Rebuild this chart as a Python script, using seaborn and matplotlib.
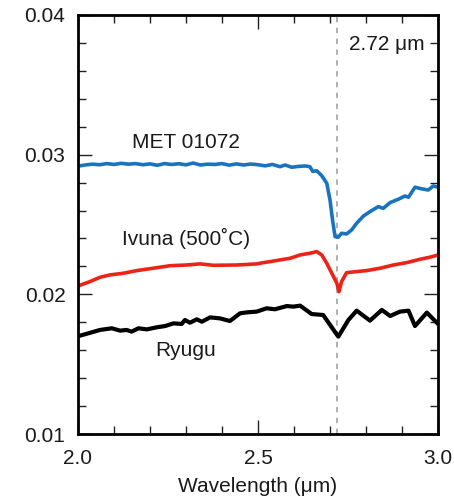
import pandas as pd
import matplotlib
matplotlib.use("Agg")
import matplotlib.pyplot as plt
import seaborn as sns
from matplotlib.ticker import MultipleLocator, FormatStrFormatter

# =====================================
# Data
# =====================================

met_x = [2.00, 2.02, 2.04, 2.06, 2.08, 2.10, 2.12, 2.14, 2.16, 2.18,
         2.20, 2.22, 2.24, 2.26, 2.28, 2.30, 2.32, 2.34, 2.36, 2.38,
         2.40, 2.42, 2.44, 2.46, 2.48, 2.50, 2.52, 2.54, 2.561, 2.575,
         2.594, 2.612, 2.631, 2.644, 2.652, 2.663, 2.677, 2.691, 2.700, 2.707,
         2.714, 2.723, 2.732, 2.746, 2.760, 2.774, 2.793, 2.811, 2.834, 2.848,
         2.867, 2.890, 2.908, 2.918, 2.936, 2.955, 2.973, 2.987, 3.000]
met_y = [0.02918, 0.02926, 0.02932, 0.02928, 0.02936, 0.02930, 0.02938, 0.02932, 0.02936, 0.02928,
         0.02934, 0.02924, 0.02936, 0.02930, 0.02935, 0.02927, 0.02940, 0.02926, 0.02932, 0.02930,
         0.02936, 0.02925, 0.02934, 0.02926, 0.02933, 0.02928, 0.02920, 0.02930, 0.02914, 0.02926,
         0.02910, 0.02916, 0.02919, 0.02914, 0.02880, 0.02885, 0.02850, 0.02795, 0.02676, 0.02533,
         0.02413, 0.02409, 0.02437, 0.02432, 0.02461, 0.02509, 0.02561, 0.02592, 0.02628, 0.02616,
         0.02657, 0.02681, 0.02704, 0.02695, 0.02767, 0.02755, 0.02747, 0.02776, 0.02767]

ivuna_x = [2.000, 2.033, 2.061, 2.089, 2.126, 2.163, 2.209, 2.256, 2.302, 2.339,
           2.376, 2.441, 2.496, 2.515, 2.533, 2.565, 2.589, 2.617, 2.644, 2.663,
           2.677, 2.691, 2.705, 2.719, 2.725, 2.732, 2.746, 2.774, 2.802, 2.839,
           2.876, 2.913, 2.950, 2.978, 3.000]
ivuna_y = [0.02060, 0.02091, 0.02122, 0.02139, 0.02151, 0.02170, 0.02187, 0.02205, 0.02210, 0.02218,
           0.02208, 0.02210, 0.02218, 0.02227, 0.02234, 0.02248, 0.02258, 0.02282, 0.02294, 0.02306,
           0.02282, 0.02222, 0.02151, 0.02079, 0.02019, 0.02091, 0.02155, 0.02163, 0.02170, 0.02187,
           0.02210, 0.02227, 0.02251, 0.02266, 0.02282]

ryugu_x = [2.000, 2.033, 2.061, 2.094, 2.117, 2.135, 2.149, 2.168, 2.191, 2.219,
           2.242, 2.265, 2.288, 2.297, 2.311, 2.330, 2.344, 2.367, 2.394, 2.422,
           2.450, 2.469, 2.496, 2.524, 2.547, 2.580, 2.598, 2.617, 2.649, 2.681,
           2.723, 2.751, 2.774, 2.811, 2.844, 2.867, 2.894, 2.918, 2.936, 2.969,
           3.000]
ryugu_y = [0.01700, 0.01724, 0.01745, 0.01757, 0.01740, 0.01745, 0.01733, 0.01757, 0.01749, 0.01764,
           0.01773, 0.01792, 0.01788, 0.01816, 0.01797, 0.01821, 0.01804, 0.01835, 0.01828, 0.01809,
           0.01864, 0.01871, 0.01876, 0.01900, 0.01893, 0.01916, 0.01912, 0.01919, 0.01859, 0.01852,
           0.01697, 0.01816, 0.01883, 0.01812, 0.01888, 0.01845, 0.01876, 0.01883, 0.01773, 0.01869,
           0.01788]

band_center = 2.72

# =====================================
# Plot
# =====================================

sns.set_style("ticks")
plt.rcParams['font.family'] = ['Liberation Sans', 'DejaVu Sans']
plt.rcParams['text.color'] = '#1a1a1a'
plt.rcParams['axes.labelcolor'] = '#1a1a1a'
plt.rcParams['xtick.labelcolor'] = '#1a1a1a'
plt.rcParams['ytick.labelcolor'] = '#1a1a1a'

fig = plt.figure(figsize=(4.54, 5.0), dpi=100)
ax = fig.add_axes([0.1718, 0.132, 0.793, 0.838])

ax.axvline(band_center, color="#aaaaaa", linestyle=(0, (3, 3)), linewidth=1.3, zorder=1)

met = pd.DataFrame({"x": met_x, "y": met_y})
ivuna = pd.DataFrame({"x": ivuna_x, "y": ivuna_y})
ryugu = pd.DataFrame({"x": ryugu_x, "y": ryugu_y})

sns.lineplot(data=met, x="x", y="y", ax=ax, color="#1a74bd", linewidth=2.6, sort=False)
sns.lineplot(data=ivuna, x="x", y="y", ax=ax, color="#ec2418", linewidth=2.6, sort=False)
sns.lineplot(data=ryugu, x="x", y="y", ax=ax, color="black", linewidth=3.0, sort=False)

fs = 15
ax.text(2.30, 0.03084, "MET 01072", ha="center", va="center", fontsize=fs)
ax.text(2.30, 0.02397, "Ivuna (500˚C)", ha="center", va="center", fontsize=fs)
ax.text(2.30, 0.0160, "Ryugu", ha="center", va="center", fontsize=fs)
ax.text(2.752, 0.0379, "2.72 μm", ha="left", va="center", fontsize=fs)

ax.set_xlim(2.0, 3.0)
ax.set_ylim(0.01, 0.04)
ax.xaxis.set_major_locator(MultipleLocator(0.5))
ax.xaxis.set_minor_locator(MultipleLocator(0.1))
ax.yaxis.set_major_locator(MultipleLocator(0.01))
ax.yaxis.set_minor_locator(MultipleLocator(0.002))
ax.xaxis.set_major_formatter(FormatStrFormatter("%.1f"))
ax.yaxis.set_major_formatter(FormatStrFormatter("%.2f"))

ax.tick_params(which="both", direction="in", top=True, right=True, width=1.0,
               labelsize=fs, color="#222222")
ax.tick_params(which="major", length=10)
ax.tick_params(axis="y", which="major", pad=9)
ax.tick_params(axis="x", which="major", pad=11)
ax.tick_params(which="minor", length=6)

for spine in ax.spines.values():
    spine.set_linewidth(2.0)
    spine.set_color("black")

ax.set_xlabel("Wavelength (μm)", fontsize=fs, labelpad=6)
ax.set_ylabel("")

fig.savefig("out.png", dpi=100)
